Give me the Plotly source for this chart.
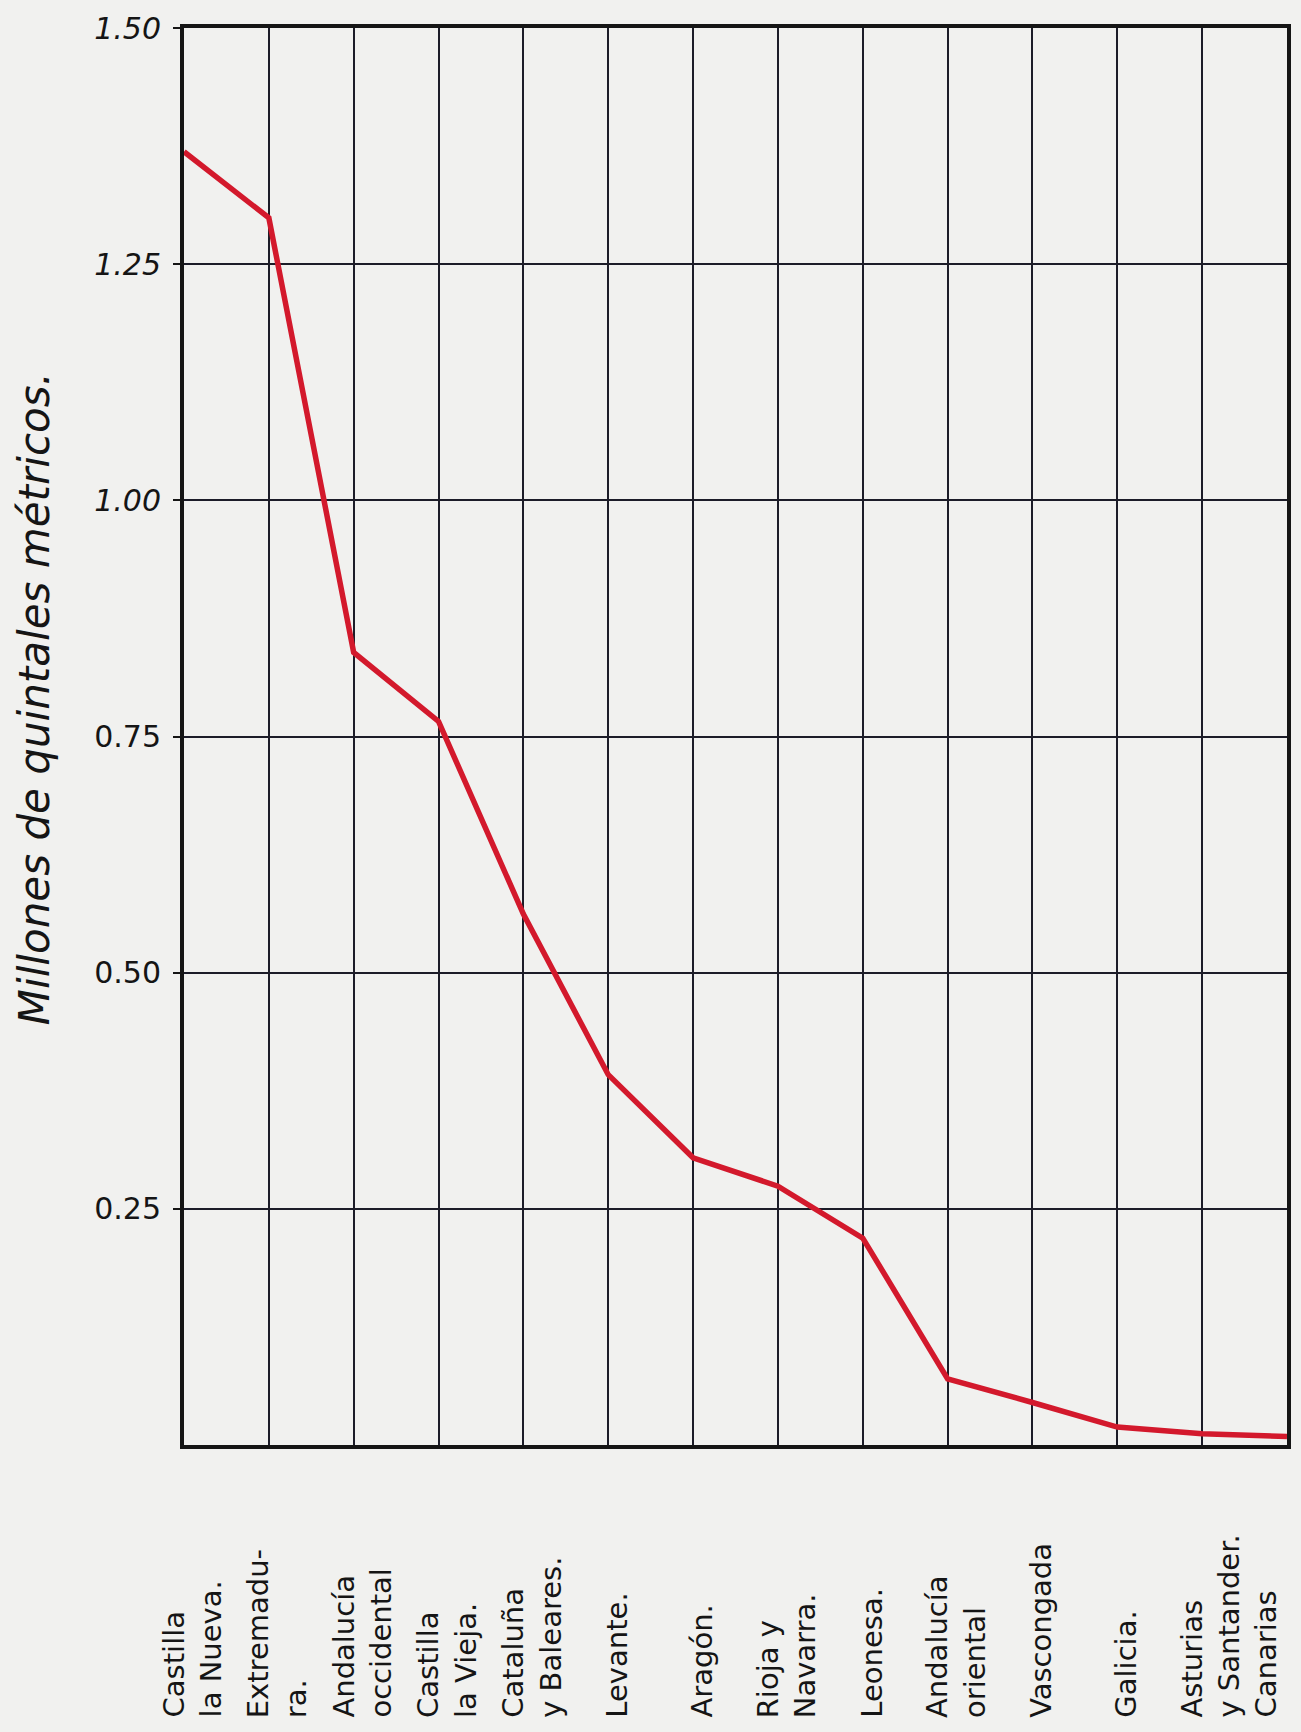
import plotly.graph_objects as go

# ---- data ----
regiones = [
    "Castilla<br>la Nueva.",
    "Extremadu-<br>ra.",
    "Andalucía<br>occidental",
    "Castilla<br>la Vieja.",
    "Cataluña<br>y Baleares.",
    "Levante.",
    "Aragón.",
    "Rioja y<br>Navarra.",
    "Leonesa.",
    "Andalucía<br>oriental",
    "Vascongada",
    "Galicia.",
    "Asturias<br>y Santander.",
    "Canarias",
]
produccion = [1.369, 1.299, 0.839, 0.766, 0.562, 0.392, 0.304, 0.274, 0.219,
              0.070, 0.045, 0.019, 0.012, 0.009]
y_tickvals = [0.25, 0.50, 0.75, 1.00, 1.25, 1.50]
y_ticktext = ["0.25", "0.50", "0.75", "<i>1.00</i>", "<i>1.25</i>", "<i>1.50</i>"]
y_title = "Millones de quintales métricos."

FONT = "DejaVu Sans"
INK = "#151515"
PAPER = "#f1f1ef"

x_pos = list(range(len(regiones)))

fig = go.Figure()
fig.add_trace(go.Scatter(
    x=x_pos, y=produccion, mode="lines",
    line=dict(color="#d3192c", width=5.5),
    hoverinfo="skip", showlegend=False,
))

annotations = []
for i, name in enumerate(regiones):
    last = i == len(regiones) - 1
    annotations.append(dict(
        x=x_pos[i], xref="x", y=-0.194, yref="paper",
        text=name, textangle=-90, showarrow=False,
        xanchor="right" if last else "center", yanchor="bottom",
        xshift=-2 if last else 9, align="left",
        font=dict(family=FONT, size=29, color=INK),
    ))
annotations.append(dict(
    x=-0.136, xref="paper", y=0.527, yref="paper",
    text=y_title, textangle=-90, showarrow=False,
    xanchor="center", yanchor="middle",
    font=dict(family=FONT, size=42, color=INK, style="italic"),
))

fig.update_layout(
    width=1301, height=1732,
    margin=dict(l=184, r=10, t=28, b=287),
    paper_bgcolor=PAPER, plot_bgcolor=PAPER,
    annotations=annotations,
    xaxis=dict(
        range=[0, len(regiones) - 1], tick0=0, dtick=1,
        showticklabels=False, ticks="",
        showgrid=True, gridcolor="#1c1c28", gridwidth=1.5,
        showline=True, linecolor=INK, linewidth=4, mirror=True,
        zeroline=False, fixedrange=True,
    ),
    yaxis=dict(
        range=[0, 1.5], tickvals=y_tickvals, ticktext=y_ticktext,
        ticks="outside", ticklen=7, tickcolor=INK, tickwidth=1.5,
        ticklabelstandoff=6,
        tickfont=dict(family=FONT, size=30, color=INK),
        showgrid=True, gridcolor="#1c1c28", gridwidth=1.5,
        showline=True, linecolor=INK, linewidth=4, mirror=True,
        zeroline=False, fixedrange=True,
    ),
)

fig.write_html(
    "out.html",
    config={"displayModeBar": False},
    post_script="document.body.style.margin='0';document.body.style.overflow='hidden';",
)
